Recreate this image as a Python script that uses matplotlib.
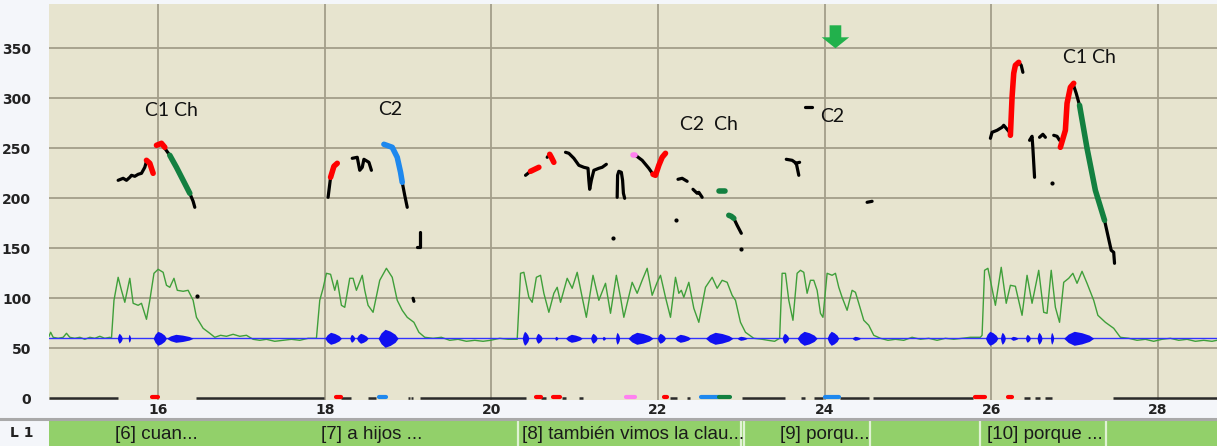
import matplotlib.pyplot as plt
from matplotlib.lines import Line2D

# ---- values ----
X_TICKS = [16, 18, 20, 22, 24, 26, 28]
Y_TICKS = [0, 50, 100, 150, 200, 250, 300, 350]
X_RANGE = (14.69, 28.71)
Y_RANGE = (-1.7, 394.3)

# intensity curve (thin green)
int_x = [14.69, 14.71, 14.74, 14.80, 14.86, 14.90, 14.94, 15.00, 15.06, 15.12, 15.18, 15.24, 15.30, 15.36, 15.42, 15.44,
         15.47, 15.52, 15.56, 15.60, 15.66, 15.70, 15.76, 15.80, 15.86, 15.90, 15.95, 16.00, 16.06, 16.10, 16.14, 16.19,
         16.23, 16.30, 16.36, 16.42, 16.46, 16.54, 16.62, 16.68,
         16.75, 16.82, 16.90, 16.98, 17.06, 17.14, 17.22, 17.30, 17.40, 17.50, 17.60, 17.70, 17.80, 17.90,
         17.94, 17.98, 18.02, 18.07, 18.12, 18.15, 18.20, 18.24, 18.30, 18.34, 18.38, 18.45, 18.48, 18.52, 18.58, 18.66,
         18.74, 18.81, 18.87, 18.93, 18.99, 19.07, 19.13, 19.20,
         19.30, 19.40, 19.50, 19.60, 19.70, 19.80, 19.90, 19.99, 20.10, 20.20, 20.31,
         20.35, 20.39, 20.45, 20.49, 20.54, 20.59, 20.63, 20.69, 20.75, 20.79, 20.83, 20.91, 20.97, 21.03, 21.09, 21.14,
         21.22, 21.29, 21.37, 21.43, 21.50, 21.55, 21.59, 21.69, 21.75, 21.81, 21.87, 21.93, 21.99, 22.03, 22.09, 22.15,
         22.21, 22.25, 22.28, 22.31, 22.37, 22.43, 22.49, 22.57, 22.65, 22.71, 22.77, 22.83, 22.89, 22.93, 22.99, 23.05,
         23.15, 23.25, 23.32, 23.40, 23.46,
         23.49, 23.53, 23.57, 23.62, 23.67, 23.71, 23.75, 23.79, 23.83, 23.87, 23.91, 23.95, 23.98, 24.03, 24.09, 24.13,
         24.17, 24.21, 24.27, 24.33, 24.37, 24.41, 24.47, 24.53, 24.59, 24.67,
         24.76, 24.85, 24.95, 25.05, 25.15, 25.25, 25.35, 25.45, 25.55, 25.65, 25.75, 25.87,
         25.89, 25.92, 25.96, 25.99, 26.05, 26.12, 26.18, 26.23, 26.29, 26.37, 26.43, 26.49, 26.57, 26.63, 26.67, 26.72,
         26.77, 26.82, 26.87, 26.93, 26.98, 27.03, 27.09, 27.15, 27.23, 27.28, 27.37, 27.47, 27.55,
         27.65, 27.75, 27.85, 27.95, 28.05, 28.15, 28.25, 28.35, 28.45, 28.55, 28.65, 28.71]
int_y = [62, 66, 61, 60, 61, 65, 61, 60, 61, 59, 61, 60, 62, 60, 61, 60,
         98, 121, 108, 96, 120, 95, 93, 95, 79, 98, 125, 129, 126, 113, 111, 120,
         108, 107, 108, 98, 81, 70, 65, 61,
         63, 62, 64, 62, 63, 59, 58, 59, 57, 58, 59, 58, 60, 60,
         98, 110, 125, 124, 108, 118, 93, 91, 120, 120, 108, 123, 108, 93, 86, 118,
         130, 121, 98, 88, 81, 76, 66, 61,
         60, 61, 58, 59, 57, 58, 57, 58, 60, 59, 59,
         125, 126, 101, 96, 121, 123, 105, 86, 105, 111, 96, 120, 110, 126, 101, 81,
         123, 98, 115, 85, 123, 101, 81, 116, 105, 118, 130, 103, 116, 123, 101, 81,
         121, 105, 108, 101, 116, 90, 76, 111, 121, 110, 118, 116, 103, 98, 76, 66,
         60, 59, 58, 57, 60,
         125, 125, 98, 78, 125, 128, 126, 105, 118, 118, 108, 85, 81, 125, 123, 125,
         111, 101, 88, 108, 106, 95, 78, 73, 63, 60,
         58, 59, 58, 61, 59, 60, 58, 60, 59, 60, 61, 61,
         63, 128, 130, 118, 93, 131, 95, 113, 112, 83, 123, 95, 128, 86, 85, 128,
         91, 76, 116, 120, 125, 115, 127, 115, 98, 83, 76, 70, 61,
         60, 58, 59, 57, 59, 60, 58, 59, 57, 58, 57, 58]

# waveform (blue) around its zero line
WAVE_LEVEL = 60
wave_start = [15.51, 15.64, 15.94, 16.10, 18.00, 18.30, 18.38, 18.64, 20.37, 20.53, 20.76, 20.89, 21.19, 21.33,
              21.49, 21.64, 21.99, 22.20, 22.57, 22.95, 23.49, 23.67, 24.03, 24.33, 25.93, 26.11, 26.23, 26.41,
              26.55, 26.71, 26.87]
wave_end = [15.57, 15.67, 16.10, 16.42, 18.20, 18.36, 18.52, 18.88, 20.45, 20.61, 20.80, 21.09, 21.27, 21.37,
            21.54, 21.94, 22.09, 22.39, 22.90, 23.07, 23.57, 23.91, 24.17, 24.43, 26.08, 26.17, 26.32, 26.47,
            26.61, 26.75, 27.23]
wave_amp = [5, 4, 7, 4, 6, 4, 5, 9, 7, 5, 2, 4, 5, 2,
            6, 6, 5, 4, 6, 2, 5, 7, 7, 2, 7, 6, 2, 4,
            6, 6, 7]

# pitch contour pieces (x list, y list)
pitch_black = [
    ([15.52, 15.58, 15.62, 15.66, 15.68, 15.72, 15.76, 15.80, 15.84, 15.86], [218, 220, 218, 221, 223, 222, 224, 225, 231, 237]),
    ([16.08, 16.14], [250, 243]),
    ([16.38, 16.42, 16.44], [205, 197, 191]),
    ([18.04, 18.07], [201, 221]),
    ([18.33, 18.39, 18.42, 18.45, 18.47, 18.53, 18.56], [240, 241, 228, 231, 239, 236, 228]),
    ([18.93, 18.96, 18.99], [216, 203, 191]),
    ([19.14, 19.14, 19.11], [166, 151, 151]),
    ([19.06, 19.07], [100, 97]),
    ([20.41, 20.47], [223, 227]),
    ([20.67, 20.70], [241, 244]),
    ([20.89, 20.93, 20.99, 21.05, 21.11, 21.16, 21.17, 21.18, 21.20, 21.23, 21.29, 21.33, 21.38],
     [246, 245, 240, 233, 231, 230, 218, 209, 218, 228, 230, 231, 234]),
    ([21.51, 21.515, 21.53, 21.56, 21.575, 21.585, 21.60], [201, 223, 227, 226, 218, 205, 200]),
    ([21.73, 21.81, 21.89, 21.94], [243, 238, 230, 224]),
    ([22.24, 22.29, 22.35], [219, 220, 217]),
    ([22.42, 22.47, 22.49, 22.53], [209, 205, 206, 201]),
    ([22.91, 22.95, 23.00], [180, 173, 165]),
    ([23.77, 23.85], [291, 291]),
    ([23.54, 23.61, 23.66, 23.69], [239, 238, 235, 223]),
    ([23.65, 23.70], [235, 236]),
    ([24.51, 24.57], [196, 197]),
    ([25.99, 26.01, 26.07, 26.13, 26.15, 26.17, 26.23], [260, 266, 268, 271, 273, 271, 265]),
    ([26.33, 26.36, 26.38], [336, 333, 326]),
    ([26.46, 26.49, 26.50, 26.52], [258, 262, 250, 221]),
    ([26.58, 26.62, 26.65], [261, 264, 261]),
    ([26.75, 26.79, 26.82], [263, 262, 258]),
    ([26.98, 27.02, 27.06], [315, 305, 293]),
    ([27.36, 27.44, 27.47, 27.48], [178, 148, 146, 135]),
]
pitch_red = [
    ([15.86, 15.90, 15.94], [238, 235, 225]),
    ([15.98, 16.04, 16.08], [253, 255, 251]),
    ([18.07, 18.11, 18.15], [221, 232, 235]),
    ([20.47, 20.52, 20.57], [227, 229, 231]),
    ([20.70, 20.72, 20.75], [244, 241, 236]),
    ([21.94, 21.97, 22.01, 22.05, 22.09], [224, 223, 233, 241, 245]),
    ([26.23, 26.25, 26.27, 26.29, 26.33], [263, 301, 325, 333, 336]),
    ([26.83, 26.89, 26.91, 26.95, 26.99], [251, 268, 295, 311, 315]),
]
pitch_green = [
    ([16.14, 16.22, 16.30, 16.38], [243, 231, 218, 205]),
    ([22.73, 22.81], [207, 207]),
    ([22.85, 22.88, 22.91], [183, 182, 180]),
    ([27.06, 27.15, 27.25, 27.36], [293, 250, 208, 178]),
]
pitch_blue = [
    ([18.71, 18.81, 18.87, 18.91, 18.93], [254, 251, 241, 226, 216]),
]
pitch_pink = [
    ([21.70, 21.73], [243, 243]),
]
dot_x = [16.47, 21.46, 22.22, 23.00, 26.73]
dot_y = [102, 160, 178, 149, 215]

# unvoiced stretches along zero and coloured marks there
base_black = [(14.69, 15.52), (16.46, 17.99), (18.19, 18.31), (18.52, 18.62), (19.00, 19.02), (19.04, 19.06),
              (19.14, 20.42), (20.60, 20.66), (20.85, 20.89), (21.05, 21.10), (22.14, 22.23), (22.35, 22.39),
              (23.01, 23.53), (23.72, 23.77), (23.87, 23.98), (24.19, 24.53), (24.58, 25.78),
              (26.39, 26.46), (26.53, 26.58), (26.65, 26.73), (27.46, 28.71)]
base_marks = [(15.93, 16.00, 'red'), (18.14, 18.19, 'red'), (18.65, 18.73, 'blue'), (20.54, 20.59, 'red'),
              (20.74, 20.82, 'red'), (21.62, 21.73, 'pink'), (22.07, 22.11, 'red'), (22.52, 22.73, 'blue'),
              (22.73, 22.87, 'green'), (24.00, 24.17, 'blue'), (25.80, 25.92, 'red'), (26.20, 26.25, 'red')]

# labels inside the plot
note_text = ['C1 Ch', 'C2', 'C2  Ch', 'C2', 'C1 Ch']
note_x = [15.84, 18.64, 22.27, 23.95, 26.86]
note_y = [288, 289, 274, 282, 341]

ARROW_X = 24.13
ARROW_TOP = 373
ARROW_TIP = 350

# annotation tier
tier_text = ['[6] cuan...', '[7] a hijos ...', '[8] también vimos la clau...', '[9] porqu...', '[10] porque ...']
tier_x = [15.48, 17.95, 20.37, 23.46, 25.95]
tier_bounds = [20.32, 23.00, 23.03, 24.55, 25.87, 27.38]

COLORS = {'black': '#000000', 'red': '#ff0000', 'green': '#138040', 'blue': '#1e88ee', 'pink': '#ff80f0'}

W, H = 1217, 446
fig = plt.figure(figsize=(W / 100, H / 100), dpi=100, facecolor='#f4f6fa')

ax = fig.add_axes([49 / W, (H - 400) / H, (W - 49) / W, 396 / H])
ax.set_facecolor('#e7e4cf')
ax.set_xlim(*X_RANGE)
ax.set_ylim(*Y_RANGE)
for s in ax.spines.values():
    s.set_visible(False)

# grid
for v in Y_TICKS[1:]:
    ax.axhline(v, color='#a39e8a', lw=1.3, zorder=1)
for v in X_TICKS:
    ax.axvline(v, color='#a39e8a', lw=1.3, zorder=1)

tick_font = dict(family=['Liberation Sans Narrow', 'DejaVu Sans'], weight='bold', size=10, color='#222222')
ax.set_xticks(X_TICKS)
ax.set_yticks(Y_TICKS)
ax.set_xticklabels([str(t) for t in X_TICKS], **tick_font)
ax.set_yticklabels([str(t) for t in Y_TICKS], **tick_font)
ax.tick_params(length=0)
ax.tick_params(axis='y', pad=13)
ax.tick_params(axis='x', pad=2)

# intensity
ax.plot(int_x, int_y, color='#3f9f3a', lw=1.0, zorder=2)

# waveform
ax.axhline(WAVE_LEVEL, color='#3333ff', lw=1.0, zorder=3)
for a, b, amp in zip(wave_start, wave_end, wave_amp):
    xs = [a, a + (b - a) * 0.15, a + (b - a) * 0.35, a + (b - a) * 0.6, a + (b - a) * 0.85, b]
    hs = [0, amp * 0.6, amp, amp * 0.8, amp * 0.45, 0]
    ax.fill_between(xs, [WAVE_LEVEL - h for h in hs], [WAVE_LEVEL + h for h in hs],
                    color='#1010f0', lw=0, zorder=3)

# pitch
for xs, ys in pitch_black:
    ax.plot(xs, ys, color=COLORS['black'], lw=2.3, solid_capstyle='round', zorder=5)
for name, segs in [('red', pitch_red), ('green', pitch_green), ('blue', pitch_blue), ('pink', pitch_pink)]:
    for xs, ys in segs:
        ax.plot(xs, ys, color=COLORS[name], lw=4.0, solid_capstyle='round', zorder=6)
ax.scatter(dot_x, dot_y, s=4, color='black', zorder=5)

# zero line pieces
for a, b in base_black:
    ax.plot([a, b], [0, 0], color='#2a2a2a', lw=1.8, solid_capstyle='butt', zorder=4)
for a, b, c in base_marks:
    ax.plot([a, b], [1, 1], color=COLORS[c], lw=3.0, solid_capstyle='round', zorder=5)

# notes
for t, x, y in zip(note_text, note_x, note_y):
    ax.text(x, y, t, fontsize=14, family=['Lato', 'DejaVu Sans'], color='#111111', va='center', ha='left', zorder=7)

ax.arrow(ARROW_X, ARROW_TOP, 0, ARROW_TIP - ARROW_TOP, width=0.14, head_width=0.33, head_length=11,
         length_includes_head=True, color='#22b14c', lw=0, zorder=7)

# tier row
fig.add_artist(Line2D([0, 1], [(H - 419) / H, (H - 419) / H], color='#a9a9a9', lw=2.2))
tier = fig.add_axes([49 / W, 0, (W - 49) / W, 25 / H])
tier.set_facecolor('#92d06a')
tier.set_xlim(*X_RANGE)
tier.set_ylim(0, 1)
tier.set_xticks([])
tier.set_yticks([])
for s in tier.spines.values():
    s.set_visible(False)
for b in tier_bounds:
    tier.axvline(b, color='#e0f2d4', lw=1.6)
for t, x in zip(tier_text, tier_x):
    tier.text(x, 0.45, t, fontsize=13.5, family=['Liberation Sans', 'DejaVu Sans'], color='#1a1a1a',
              va='center', ha='left')
fig.text(10 / W, 13 / H, 'L 1', fontsize=10, weight='bold', family=['Liberation Sans Narrow', 'DejaVu Sans'],
         color='#222222', va='center', ha='left')

fig.savefig('out.png', dpi=100, facecolor=fig.get_facecolor())
